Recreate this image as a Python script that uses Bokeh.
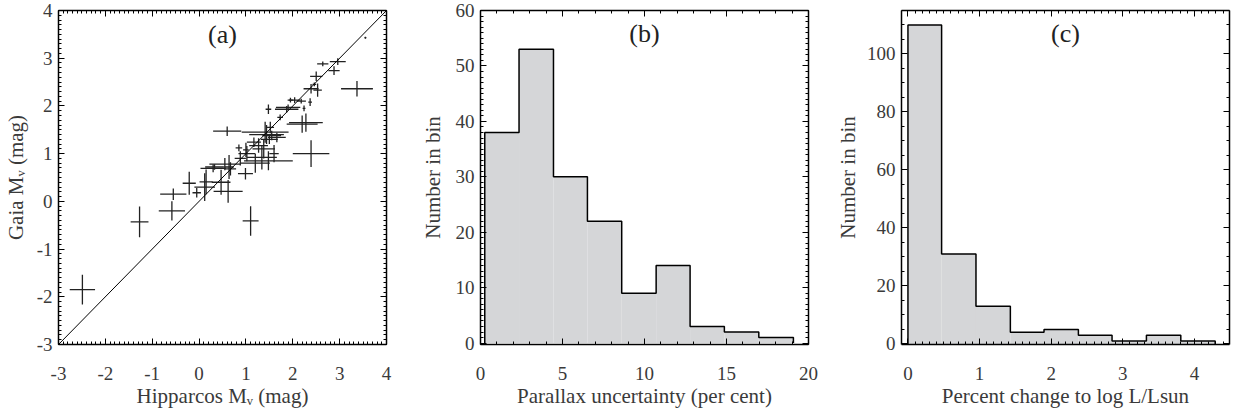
import numpy as np
from bokeh.plotting import figure
from bokeh.models import LinearAxis, Range1d, FixedTicker, Label, Slope
from bokeh.layouts import row
from bokeh.embed import file_html
from bokeh.resources import INLINE

# ---------------- data ----------------
# panel (a): Hipparcos vs Gaia absolute magnitudes with errors
hip_mv = [-2.49, -1.27, -0.58, -0.55, -0.21, -0.05, 0.12, 0.15, 0.30, 0.33,
          0.47, 0.62, 0.55, 0.64, 0.67, 0.60, 0.85, 0.88, 0.99, 1.02,
          1.10, 1.17, 1.20, 1.27, 1.34, 1.38, 1.41, 1.44, 1.48, 1.50,
          1.55, 1.60, 1.66, 1.48, 1.52, 1.73, 1.87, 1.90, 2.04, 2.18,
          2.20, 2.28, 2.24, 2.37, 2.39, 2.39, 2.46, 2.53, 2.50, 2.64,
          2.88, 2.96, 3.37, 3.55, 1.95, 1.00]
gaia_mv = [-1.85, -0.43, -0.20, 0.15, 0.38, 0.18, 0.30, 0.41, 0.69, 0.72,
           0.40, 0.21, 0.78, 0.72, 0.68, 1.47, 1.12, 0.90, 0.58, 1.00,
           -0.41, 1.24, 0.80, 1.17, 0.92, 1.10, 1.45, 1.40, 0.85, 1.30,
           1.38, 1.00, 1.34, 1.93, 1.55, 1.76, 1.93, 1.97, 2.12, 2.10,
           1.62, 1.65, 1.95, 2.08, 1.00, 2.36, 2.45, 2.33, 2.62, 2.88,
           2.74, 2.93, 2.36, 3.43, 2.12, 1.08]
hip_err = [0.27, 0.19, 0.28, 0.28, 0.14, 0.09, 0.22, 0.14, 0.27, 0.20,
           0.20, 0.31, 0.33, 0.10, 0.12, 0.30, 0.07, 0.12, 0.16, 0.18,
           0.17, 0.15, 0.31, 0.20, 0.32, 0.24, 0.50, 0.37, 0.52, 0.18,
           0.20, 0.10, 0.19, 0.06, 0.08, 0.06, 0.25, 0.26, 0.12, 0.10,
           0.33, 0.36, 0.03, 0.04, 0.39, 0.16, 0.04, 0.09, 0.13, 0.12,
           0.12, 0.17, 0.34, 0.02, 0.06, 0.06]
gaia_err = [0.31, 0.32, 0.20, 0.12, 0.24, 0.10, 0.29, 0.26, 0.08, 0.06,
            0.26, 0.24, 0.13, 0.25, 0.14, 0.10, 0.07, 0.15, 0.12, 0.16,
            0.31, 0.10, 0.20, 0.15, 0.25, 0.20, 0.22, 0.20, 0.20, 0.10,
            0.10, 0.18, 0.10, 0.10, 0.12, 0.06, 0.07, 0.06, 0.06, 0.05,
            0.18, 0.19, 0.06, 0.08, 0.28, 0.10, 0.04, 0.14, 0.10, 0.05,
            0.09, 0.07, 0.16, 0.02, 0.05, 0.15]
mag_ticks = [-3, -2, -1, 0, 1, 2, 3, 4]
mag_tick_labels = ["-3", "-2", "-1", "0", "1", "2", "3", "4"]

# panel (b): parallax uncertainty histogram
plx_edges = [0.26, 2.35, 4.45, 6.52, 8.61, 10.71, 12.78, 14.87, 16.97, 19.08]
plx_counts = [38, 53, 30, 22, 9, 14, 3, 2, 1]

# panel (c): percent change to log L/Lsun histogram
lum_edges = [0.0, 0.47, 0.95, 1.43, 1.90, 2.38, 2.85, 3.33, 3.81, 4.29]
lum_counts = [110, 31, 13, 4, 5, 3, 1, 3, 1]

FONT = "Liberation Serif"
TXT = "#3a3a3a"
FILL = "#d5d6d8"
FW, FH = 328, 334


def make_fig(left, right, xr, yr, xmaj, xmin, ymaj, ymin,
             xlabel, ylabel, ylab_standoff):
    p = figure(frame_width=FW, frame_height=FH,
               x_range=Range1d(*xr), y_range=Range1d(*yr),
               output_backend="svg", toolbar_location=None,
               min_border_left=left, min_border_right=right,
               min_border_top=10, min_border_bottom=66,
               x_axis_label=xlabel, y_axis_label=ylabel)
    p.grid.visible = False
    p.outline_line_color = None
    p.add_layout(LinearAxis(), "right")
    p.add_layout(LinearAxis(), "above")
    for ax in p.xaxis:
        ax.ticker = FixedTicker(ticks=xmaj, minor_ticks=xmin)
    for ax in p.yaxis:
        ax.ticker = FixedTicker(ticks=ymaj, minor_ticks=ymin)
    for ax in p.axis:
        ax.major_tick_in = 6
        ax.major_tick_out = 0
        ax.minor_tick_in = 3
        ax.minor_tick_out = 0
        ax.axis_line_width = 1.5
        ax.axis_line_color = "black"
        ax.major_tick_line_color = "black"
        ax.minor_tick_line_color = "black"
        ax.major_tick_line_width = 1
        ax.minor_tick_line_width = 1
        ax.major_label_text_font = FONT
        ax.major_label_text_font_size = "19px"
        ax.major_label_text_color = TXT
        ax.axis_label_text_font = FONT
        ax.axis_label_text_font_size = "21px"
        ax.axis_label_text_font_style = "normal"
        ax.axis_label_text_color = TXT
    for ax in p.right + p.above:
        ax.major_label_text_font_size = "0px"
        ax.major_label_standoff = 0
        ax.axis_label_standoff = 0
        ax.major_label_overrides = {t: "" for t in (xmaj if ax in p.above else ymaj)}
    p.below[0].major_label_standoff = 22
    p.below[0].axis_label_standoff = 1
    p.left[0].major_label_standoff = 6
    p.left[0].axis_label_standoff = ylab_standoff
    return p


def panel_label(p, x, y, text):
    p.add_layout(Label(x=x, y=y, text=text, text_align="center", text_baseline="top",
                       text_font=FONT, text_font_size="26px", text_color="#222222"))


def histogram(p, edges, counts):
    e = np.asarray(edges, dtype=float)
    c = np.asarray(counts, dtype=float)
    p.quad(left=e[:-1], right=e[1:], bottom=0, top=c, fill_color=FILL, line_color=None)
    xs = np.concatenate([[e[0]], np.repeat(e, 2)[1:-1], [e[-1]]])
    ys = np.concatenate([[0], np.repeat(c, 2), [0]])
    p.line(xs, ys, line_color="black", line_width=1.5)


minor_a = [round(v, 1) for v in np.arange(-3, 4.01, 0.1)]

# ---- panel (a)
pa = make_fig(56, 31, (-3, 4), (-3, 4), mag_ticks, minor_a, mag_ticks, minor_a,
              "Hipparcos M\u1d65 (mag)", "Gaia M\u1d65 (mag)", 6)
overrides = dict(zip(mag_ticks, mag_tick_labels))
pa.below[0].major_label_overrides = overrides
pa.left[0].major_label_overrides = overrides
x = np.array(hip_mv); y = np.array(gaia_mv)
xe = np.array(hip_err); ye = np.array(gaia_err)
pa.segment(x0=x - xe, y0=y, x1=x + xe, y1=y, line_color="#222222", line_width=1.3)
pa.segment(x0=x, y0=y - ye, x1=x, y1=y + ye, line_color="#222222", line_width=1.3)
pa.add_layout(Slope(gradient=1, y_intercept=0, line_color="black", line_width=1))
panel_label(pa, 0.5, 3.81, "(a)")

# ---- panel (b)
pb = make_fig(61, 24, (0, 20), (-0.25, 60), [0, 5, 10, 15, 20], list(range(0, 21)),
              list(range(0, 61, 10)), list(range(0, 61)),
              "Parallax uncertainty (per cent)", "Number in bin", 8)
histogram(pb, plx_edges, plx_counts)
panel_label(pb, 10, 58.4, "(b)")

# ---- panel (c)
minor_c = [round(v, 1) for v in np.arange(0, 4.41, 0.1)]
pc = make_fig(66, 3, (-0.09, 4.49), (-0.2, 115), [0, 1, 2, 3, 4], minor_c,
              list(range(0, 101, 20)), list(range(0, 116, 5)),
              "Percent change to log L/Lsun", "Number in bin", 4)
histogram(pc, lum_edges, lum_counts)
panel_label(pc, 2.2, 111.9, "(c)")

layout = row(pa, pb, pc)
open("out.html", "w").write(file_html(layout, INLINE))
